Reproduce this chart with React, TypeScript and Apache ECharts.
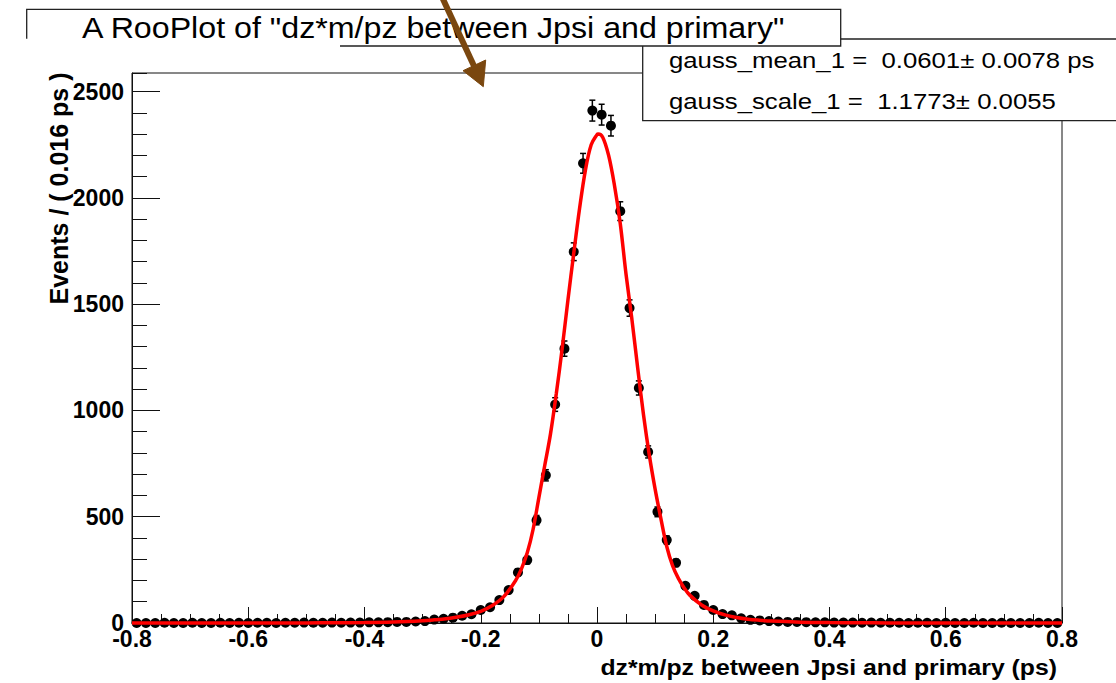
import React, { useEffect, useRef } from "react";
import * as echarts from "echarts";

// ---- data ----
const binWidth = 0.016;
const xStart = -0.8;
const counts: number[] = [
  0, 0, 0, 1, 0, 0, 1, 0, 0, 1, 0, 1, 0, 1, 1, 0, 1, 1, 2, 1,
  1, 2, 1, 2, 2, 3, 3, 4, 5,
  5, 7, 9, 16, 20, 25, 34, 41, 61, 74, 108, 155, 238,
  296, 484, 695, 1028, 1291, 1747, 2163,
  2411, 2392, 2340, 1938, 1482, 1106, 805, 523, 390,
  283, 175, 128, 85, 61, 42, 36, 22, 15,
  12, 9, 7, 5, 5, 4, 3,
  3, 2, 2, 2, 1, 2, 1, 1, 1, 0, 1, 1, 0, 1, 0, 0, 1, 0, 0, 1, 0, 0, 0, 1, 0, 0,
];

const curveX: number[] = [
  -0.8, -0.6, -0.5, -0.45, -0.4, -0.35, -0.3, -0.28, -0.26, -0.24, -0.22, -0.2, -0.18, -0.16, -0.14,
  -0.13, -0.12, -0.11, -0.1, -0.09, -0.08, -0.07, -0.06, -0.05, -0.04, -0.03, -0.02, -0.01, 0, 0.002,
  0.01, 0.02, 0.03, 0.04, 0.05, 0.06, 0.07, 0.08, 0.09, 0.1, 0.11, 0.12, 0.13, 0.14, 0.15,
  0.16, 0.18, 0.2, 0.22, 0.24, 0.26, 0.28, 0.3, 0.35, 0.4, 0.45, 0.5, 0.6, 0.8,
];
const curveY: number[] = [
  0, 0, 0.5, 1, 2, 5, 11, 15, 20, 28, 39, 55, 82, 125, 200,
  255, 330, 440, 590, 740, 890, 1080, 1290, 1520, 1740, 1950, 2130, 2250, 2298, 2301,
  2285, 2200, 2060, 1880, 1640, 1430, 1200, 980, 790, 630, 490, 360, 270, 210, 165,
  130, 85, 57, 38, 26, 18, 13, 9, 4, 2, 1, 0.5, 0, 0,
];

const xTickValues: number[] = [-0.8, -0.6, -0.4, -0.2, 0, 0.2, 0.4, 0.6, 0.8];
const xTickLabels: string[] = ["-0.8", "-0.6", "-0.4", "-0.2", "0", "0.2", "0.4", "0.6", "0.8"];
const yTickValues: number[] = [0, 500, 1000, 1500, 2000, 2500];
const yTickLabels: string[] = ["0", "500", "1000", "1500", "2000", "2500"];

const titleText = 'A RooPlot of "dz*m/pz between Jpsi and primary"';
const statLines: string[] = [
  "gauss_mean_1 =  0.0601\u00b1 0.0078 ps",
  "gauss_scale_1 =  1.1773\u00b1 0.0055",
];
const xTitle = "dz*m/pz between Jpsi and primary (ps)";
const yTitle = "Events / ( 0.016 ps )";

const FONT = "'Liberation Sans', Arial, Helvetica, sans-serif";

export default function App() {
  const ref = useRef<HTMLDivElement>(null);

  useEffect(() => {
    if (!ref.current) return;
    const chart = echarts.init(ref.current, undefined, { renderer: "svg" });

    const centers = counts.map((_, i) => xStart + binWidth * (i + 0.5));
    const points = counts.map((c, i) => [centers[i], c]);
    const errs = counts
      .map((c, i) => [centers[i], c - Math.sqrt(c), c + Math.sqrt(c)])
      .filter((d) => d[2] > d[1]);
    const curve = curveX.map((x, i) => [x, curveY[i]]);

    const fmt = (vals: number[], labels: string[]) => (v: number) => {
      const i = vals.findIndex((t) => Math.abs(t - v) < 1e-6);
      return i >= 0 ? labels[i] : "";
    };

    const yMax = 2588;
    const tickColor = "#111";

    const option: any = {
      animation: false,
      backgroundColor: "#fff",
      grid: {
        left: 132,
        top: 73,
        width: 930,
        height: 550,
        show: true,
        borderColor: "#111",
        borderWidth: 1,
        backgroundColor: "transparent",
      },
      xAxis: {
        type: "value",
        min: -0.8,
        max: 0.8,
        interval: 0.2,
        axisLine: { show: true, onZero: false, lineStyle: { color: "#111", width: 1 } },
        axisTick: { show: true, inside: true, length: 16, lineStyle: { color: tickColor, width: 1 } },
        minorTick: { show: true, splitNumber: 4, length: 9, lineStyle: { color: tickColor, width: 1 } },
        splitLine: { show: false },
        minorSplitLine: { show: false },
        axisLabel: {
          show: true,
          margin: 4,
          color: "#000",
          fontSize: 23,
          fontWeight: "bold",
          fontFamily: FONT,
          formatter: fmt(xTickValues, xTickLabels),
        },
      },
      yAxis: [
        {
          type: "value",
          position: "left",
          min: 0,
          max: yMax,
          interval: 500,
          axisLine: { show: true, onZero: false, lineStyle: { color: "#111", width: 1 } },
          axisTick: { show: true, inside: true, length: 28, lineStyle: { color: tickColor, width: 1 } },
          splitLine: { show: false },
          axisLabel: {
            show: true,
            margin: 8,
            color: "#000",
            fontSize: 23,
            fontWeight: "bold",
            fontFamily: FONT,
            showMaxLabel: false,
            formatter: fmt(yTickValues, yTickLabels),
          },
        },
        {
          type: "value",
          position: "left",
          min: 0,
          max: yMax,
          interval: 100,
          axisLine: { show: false, onZero: false },
          axisTick: { show: true, inside: true, length: 15, lineStyle: { color: tickColor, width: 1 } },
          splitLine: { show: false },
          axisLabel: { show: false },
        },
      ],
      series: [
        {
          type: "custom",
          name: "errors",
          clip: false,
          z: 2,
          data: errs,
          encode: { x: 0, y: [1, 2] },
          renderItem: (params: any, api: any) => {
            const x = api.value(0);
            const lo = api.value(1);
            const hi = api.value(2);
            const p1 = api.coord([x, lo]);
            const p2 = api.coord([x, hi]);
            const cw = 3;
            const st = { stroke: "#000", lineWidth: 1.5 };
            return {
              type: "group",
              children: [
                { type: "line", shape: { x1: p1[0], y1: p1[1], x2: p2[0], y2: p2[1] }, style: st },
                { type: "line", shape: { x1: p1[0] - cw, y1: p1[1], x2: p1[0] + cw, y2: p1[1] }, style: st },
                { type: "line", shape: { x1: p2[0] - cw, y1: p2[1], x2: p2[0] + cw, y2: p2[1] }, style: st },
              ],
            };
          },
        },
        {
          type: "scatter",
          name: "data",
          clip: false,
          z: 3,
          symbol: "circle",
          symbolSize: 10,
          itemStyle: { color: "#000", opacity: 1 },
          data: points,
        },
        {
          type: "line",
          name: "fit",
          z: 4,
          smooth: 0.35,
          showSymbol: false,
          symbol: "none",
          clip: false,
          lineStyle: { color: "#ff0000", width: 3.5 },
          data: curve,
        },
      ],
      graphic: [
        // stat box
        {
          type: "rect",
          z: 100,
          shape: { x: 642.7, y: 39, width: 520, height: 81.7 },
          style: { fill: "#fff", stroke: "#222", lineWidth: 1.3 },
        },
        {
          type: "text",
          z: 101,
          x: 669,
          y: 60,
          scaleX: 1.17,
          style: {
            text: statLines[0],
            fill: "#000",
            font: `22px ${FONT}`,
            textAlign: "left",
            textVerticalAlign: "middle",
          },
        },
        {
          type: "text",
          z: 101,
          x: 669,
          y: 101,
          scaleX: 1.17,
          style: {
            text: statLines[1],
            fill: "#000",
            font: `22px ${FONT}`,
            textAlign: "left",
            textVerticalAlign: "middle",
          },
        },
        // title box
        {
          type: "rect",
          z: 102,
          shape: { x: 26.7, y: 9.3, width: 814, height: 36.7 },
          style: { fill: "#fff", stroke: "#222", lineWidth: 1.3 },
        },
        {
          type: "rect",
          z: 103,
          shape: { x: 20, y: 38.7, width: 320, height: 12 },
          style: { fill: "#fff", stroke: null, lineWidth: 0 },
        },
        {
          type: "text",
          z: 104,
          x: 82,
          y: 28,
          scaleX: 1.11,
          style: {
            text: titleText,
            fill: "#000",
            font: `29px ${FONT}`,
            textAlign: "left",
            textVerticalAlign: "middle",
          },
        },
        // arrow
        {
          type: "line",
          z: 110,
          shape: { x1: 442, y1: -3, x2: 474, y2: 66 },
          style: { stroke: "#7a470f", lineWidth: 6 },
        },
        {
          type: "polygon",
          z: 110,
          shape: { points: [[463, 70.7], [485.7, 60], [483.3, 86.7]] },
          style: { fill: "#7a470f", stroke: "#7a470f", lineWidth: 1 },
        },
        // axis titles
        {
          type: "text",
          z: 105,
          x: 1057,
          y: 667,
          scaleX: 1.126,
          style: {
            text: xTitle,
            fill: "#000",
            font: `bold 22px ${FONT}`,
            textAlign: "right",
            textVerticalAlign: "middle",
          },
        },
        {
          type: "text",
          z: 105,
          x: 59,
          y: 188.5,
          rotation: Math.PI / 2,
          style: {
            text: yTitle,
            fill: "#000",
            font: `bold 25px ${FONT}`,
            textAlign: "center",
            textVerticalAlign: "middle",
          },
        },
      ],
    };

    chart.setOption(option);
    return () => chart.dispose();
  }, []);

  return (
    <div
      ref={ref}
      style={{ position: "fixed", left: 0, top: 0, width: 1116, height: 683, background: "#fff" }}
    />
  );
}
